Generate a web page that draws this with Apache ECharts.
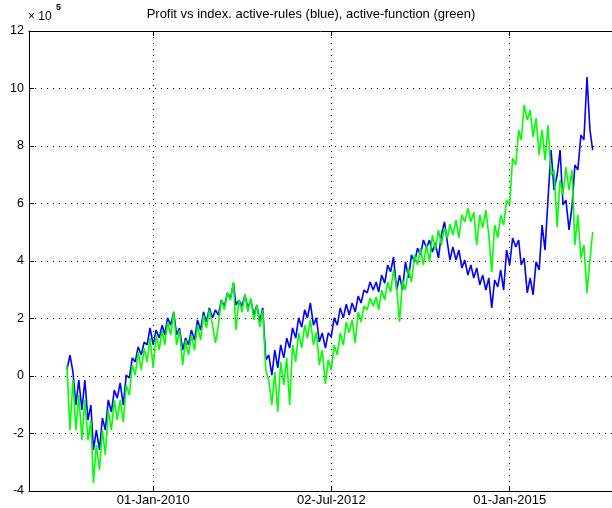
<!DOCTYPE html>
<html>
<head>
<meta charset="utf-8">
<script src="https://cdn.jsdelivr.net/npm/echarts@6/dist/echarts.min.js"></script>
<style>
html, body { margin: 0; padding: 0; background: #fff; }
#chart { width: 612px; height: 508px; }
</style>
</head>
<body>
<div id="chart"></div>
<script>
// profit in units of 1e5, one reading on the 16th and the 1st of each month from 16-Oct-2008
var activeRules = [
  0.21, 0.73, 0.14, -1.01, -0.14, -1.18, -0.14, -1.53, -1.01, -2.57,
  -1.88, -2.57, -1.46, -1.88, -0.83, -1.25, -0.49, -0.77, -0.24, -1.01,
  0.03, -0.07, 0.63, 0.49, 1.01, 0.73, 1.18, 1.08, 1.67, 1.08,
  1.60, 1.32, 1.77, 1.43, 2.02, 1.77, 2.23, 1.43, 1.67, 0.90,
  1.32, 1.08, 1.60, 1.25, 1.95, 1.60, 2.23, 1.88, 2.37, 2.02,
  2.30, 2.12, 2.64, 2.43, 2.89, 2.71, 3.23, 2.47, 2.64, 2.43,
  2.82, 2.37, 2.64, 2.12, 2.47, 1.88, 2.37, 0.56, 0.73, 0.03,
  0.90, 0.28, 1.08, 0.63, 1.32, 0.97, 1.67, 1.32, 2.02, 1.70,
  2.30, 2.02, 2.54, 1.77, 2.02, 1.18, 1.50, 0.97, 1.50, 1.36,
  2.02, 1.77, 2.37, 2.02, 2.50, 2.12, 2.54, 2.23, 2.78, 2.54,
  2.99, 2.89, 3.27, 2.99, 3.27, 2.92, 3.51, 3.23, 3.86, 3.62,
  4.14, 2.99, 3.51, 2.99, 3.97, 3.41, 4.21, 3.97, 4.45, 4.21,
  4.73, 4.45, 4.73, 4.31, 4.63, 4.10, 4.90, 5.36, 4.63, 4.03,
  4.49, 4.03, 4.38, 3.76, 4.03, 3.51, 3.86, 3.41, 3.76, 3.17,
  3.51, 2.99, 3.41, 2.37, 3.34, 3.10, 3.69, 2.99, 4.38, 3.86,
  4.80, 4.49, 4.73, 3.86, 4.10, 2.89, 3.41, 2.82, 3.97, 3.69,
  5.25, 4.38, 6.12, 7.86, 6.47, 6.99, 7.86, 5.95, 6.12, 5.08,
  5.88, 7.34, 7.17, 8.38, 8.21, 10.40, 8.56, 7.86
];
var activeFunction = [
  0.38, -1.88, -0.14, -1.88, -0.66, -2.23, -0.83, -2.23, -1.53, -3.72,
  -2.40, -3.27, -1.88, -2.75, -1.18, -1.88, -0.83, -1.53, -0.83, -1.60,
  -0.31, -0.66, 0.38, 0.03, 0.83, 0.21, 0.97, 0.49, 1.32, 0.28,
  1.43, 0.90, 1.60, 1.08, 1.88, 1.43, 2.23, 1.08, 1.60, 0.38,
  1.25, 0.73, 1.43, 0.90, 1.77, 1.25, 2.12, 1.67, 2.30, 1.77,
  1.15, 1.77, 2.64, 2.30, 2.89, 2.64, 3.27, 1.60, 2.64, 2.23,
  2.85, 2.23, 2.71, 1.95, 2.47, 1.70, 2.30, 0.21, -0.14, -1.01,
  0.14, -1.25, 0.49, -0.31, 0.63, -1.01, 1.08, 0.49, 1.50, 0.97,
  1.77, 1.32, 1.95, 1.08, 1.53, 0.38, 0.90, -0.28, 0.56, 0.21,
  1.08, 0.73, 1.50, 1.08, 1.88, 1.50, 1.95, 1.15, 2.23, 1.88,
  2.43, 2.30, 2.71, 2.43, 2.75, 2.30, 2.99, 2.64, 3.27, 2.92,
  3.69, 3.06, 1.88, 3.34, 2.99, 3.76, 3.27, 4.21, 3.86, 4.45,
  3.86, 4.56, 3.97, 4.90, 4.38, 5.08, 4.56, 5.15, 4.80, 5.29,
  4.90, 5.43, 4.80, 5.60, 5.36, 5.84, 5.36, 5.70, 4.56, 5.60,
  5.15, 5.77, 4.90, 3.62, 5.25, 4.80, 5.60, 5.25, 6.12, 5.95,
  7.58, 7.34, 8.56, 8.21, 9.43, 8.90, 9.25, 8.31, 8.97, 7.69,
  8.56, 7.51, 8.73, 6.99, 7.17, 5.18, 6.82, 6.30, 7.27, 6.47,
  7.17, 4.56, 5.60, 4.10, 4.56, 2.89, 4.03, 5.01
];
var tickDates = [[2010, 0, 1], [2012, 6, 2], [2015, 0, 1]];
var yMin = -4, yMax = 12, yStep = 2;
var MONTHS = ['Jan', 'Feb', 'Mar', 'Apr', 'May', 'Jun', 'Jul', 'Aug', 'Sep', 'Oct', 'Nov', 'Dec'];

// sample dates: 16-Oct-2008, 01-Nov-2008, 16-Nov-2008, ...
var dates = [];
for (var i = 0; i < activeRules.length; i++) {
  var m = 9 + Math.floor((i + 1) / 2);
  dates.push(+new Date(2008 + Math.floor(m / 12), m % 12, i % 2 === 0 ? 16 : 1));
}
var tickVals = tickDates.map(function (d) { return +new Date(d[0], d[1], d[2]); });
// visible window; the axes box runs on past the right edge of the picture
var xMin = +new Date(2008, 3, 5);
var xMax = +new Date(2016, 5, 8);

function dateLabel(v) {
  var d = new Date(v);
  return ('0' + d.getDate()).slice(-2) + '-' + MONTHS[d.getMonth()] + '-' + d.getFullYear();
}

var FONT = 'Liberation Sans';
var chart = echarts.init(document.getElementById('chart'));
chart.setOption({
  backgroundColor: '#fff',
  animation: false,
  graphic: [
    {
      type: 'text', x: 311, y: 14,
      style: { text: 'Profit vs index. active-rules (blue), active-function (green)', align: 'center', verticalAlign: 'middle',
        fontFamily: FONT, fontSize: 13, fill: '#000' }
    },
    {
      type: 'text', x: 28, y: 17,
      style: { text: '× 10', verticalAlign: 'middle', fontFamily: FONT, fontSize: 12, fill: '#000' }
    },
    {
      type: 'text', x: 56, y: 8,
      style: { text: '5', verticalAlign: 'middle', fontFamily: FONT, fontSize: 9, fontWeight: 'bold', fill: '#000' }
    }
  ],
  grid: { left: 29, right: 0, top: 31, bottom: 17 },
  xAxis: [
    {
      type: 'value', min: xMin, max: xMax, scale: true,
      axisLine: { show: true, onZero: false, lineStyle: { color: '#000', width: 1 } },
      axisTick: { show: true, inside: true, length: 5, customValues: tickVals, lineStyle: { color: '#000' } },
      axisLabel: { customValues: tickVals, formatter: dateLabel, color: '#000', fontFamily: FONT, fontSize: 13, margin: 3, hideOverlap: false },
      splitLine: { show: true, lineStyle: { color: '#000', width: 1, type: [1, 5] } }
    },
    {
      type: 'value', position: 'top', min: xMin, max: xMax, scale: true,
      axisLine: { show: true, onZero: false, lineStyle: { color: '#000', width: 1 } },
      axisTick: { show: true, inside: true, length: 5, customValues: tickVals, lineStyle: { color: '#000' } },
      axisLabel: { show: false },
      splitLine: { show: false }
    }
  ],
  yAxis: {
    type: 'value', min: yMin, max: yMax, interval: yStep,
    axisLine: { show: true, onZero: false, lineStyle: { color: '#000', width: 1 } },
    axisTick: { show: true, inside: true, length: 5, lineStyle: { color: '#000' } },
    axisLabel: { color: '#000', fontFamily: FONT, fontSize: 12.5, margin: 5 },
    splitLine: { show: true, lineStyle: { color: '#000', width: 1, type: [1, 5] } }
  },
  series: [
    {
      name: 'active-rules', type: 'line', showSymbol: false,
      lineStyle: { color: '#0000ff', width: 1.6 },
      data: dates.map(function (d, i) { return [d, activeRules[i]]; })
    },
    {
      name: 'active-function', type: 'line', showSymbol: false,
      lineStyle: { color: '#00ff00', width: 1.6 },
      data: dates.map(function (d, i) { return [d, activeFunction[i]]; })
    }
  ]
});
</script>
</body>
</html>
